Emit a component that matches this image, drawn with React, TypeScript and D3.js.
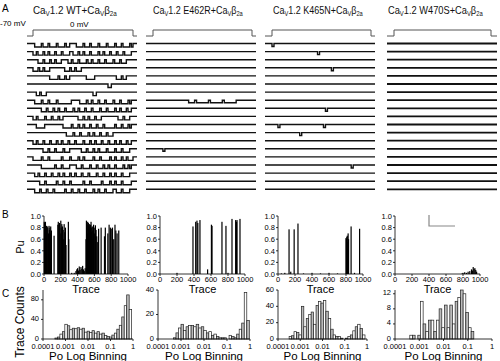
import React from 'react';
import * as d3 from 'd3';

const FONT = '"Liberation Sans", Arial, Helvetica, sans-serif';

// ---------- Panel A: titles / single-channel traces ----------
const mutants = ['WT', 'E462R', 'K465N', 'W470S'];
const titleWidths = [84, 90, 90, 95];

// '1' = open, '0' = closed, across the 0 mV step
const tracesWT = [
  '011110111011110111101100001111011101111011110111101110111101',
  '110111011011101110111100111011011101111011011101110111011110',
  '000111011101101110000110111011110110111011101111011101110000',
  '111011011100000000011101101110000000000000000000000000000000',
  '000000000011111011101100000000001111100000000000001110110000',
  '000000000000000000000000000000000000000000000110000000000000',
  '001101110000000000000000000000000000110000000000000000000000',
  '011110111011110111111110000011110110111011101111011101111010',
  '000001110111011011101111011011101110111101110111101101110110',
  '110111101110111011000000000111011011101110000000000111011100',
  '001111100000000000111110111011011101110111011111101110111010',
  '000000000000000000001111011101111011011101110111000000000000',
  '110111011101110110111011101111011101101110111011101101110110',
  '000000111011101111011100000001110111011011110111101110111100',
  '111110111011111110111101111011011111011101111101101110110111',
  '000001111111101110111100001110111101110111011011101111011010',
  '011011101110111011011101101110111011110111011101101110111100',
  '000011101111110111011101111111011101111110111101101110111110',
  '011101110111011111101110111011101111011011101111001110111100',
];
const tracesE462R = [
  '00000000000000000000000000000000000000000000000000',
  '00000000000000000000000000000000000000000000000000',
  '00000000000000000000000000000000000000000000000000',
  '00000000000000000000000000000000000000000000000000',
  '00000000000000000000000000000000000000000000000000',
  '00000000000000000000000000000000000000000000000000',
  '00000000000000000000000000000000000000000000000000',
  '00000000000000000011101111110111111011111100000000',
  '00000000000000000000000000000000000000000000000000',
  '00000000000000000000000000000000000000000000000000',
  '00000000000000000000000000000000000000000000000000',
  '00000000000000000000000000000000000000000000000000',
  '00000000000000000000000000000000000000000000000000',
  '00000100000000000000000000000000000000000000000000',
  '00000000000000000000000000000000000000000000000000',
  '00000000000000000000000000000000000000000000000000',
  '00000000000000000000000000000000000000000000000000',
  '00000000000000000000000000000000000000000000000000',
  '00000000000000000000000000000000000000000000000000',
];
const tracesK465N = [
  '10000000000000000000000000000000000000000000000000',
  '00000000000000000000000100000000000000000000000000',
  '00000000000000000000000000000000000000000000000000',
  '00000000000000000000000000000010000000000000000000',
  '00000000000000000000000000000000000000000000000000',
  '00000000000000000000000000000000000000000000000000',
  '00000000000000000000000000000000000000000000000000',
  '00000000000000000000000000000000000000000000000000',
  '00000000000000000000000000010000000000000000000000',
  '00000000000000000000000000000000000000000000000000',
  '00010000000000000000000000100000000000000000000000',
  '00000000000000100000000000000000000000000000000000',
  '00000000000000000000000000000000000000000000000000',
  '00000000000000000000000000000000000000000000000000',
  '00000000000000000000000000000000000000000000000000',
  '00000000000000000000000000000000000000001000000000',
  '00000000000000000000000000000000000000000000000000',
  '00000000000000000000000000000000000000000000000000',
  '00000000000000000000000000000000000000000000000000',
];
const tracesW470S = [
  '00000000000000000000000000000000000000000000000000',
  '00000000000000000000000000000000000000000000000000',
  '00000000000000000000000000000000000000000000000000',
  '00000000000000000000000000000000000000000000000000',
  '00000000000000000000000000000000000000000000000000',
  '00000000000000000000000000000000000000000000000000',
  '00000000000000000000000000000000000000000000000000',
  '00000000000000000000000000000000000000000000000000',
  '00000000000000000000000000000000000000000000000000',
  '00000000000000000000000000000000000000000000000000',
  '00000000000000000000000000000000000000000000000000',
  '00000000000000000000000000000000000000000000000000',
  '00000000000000000000000000000000000000000000000000',
  '00000000000000000000000000000000000000000000000000',
  '00000000000000000000000000000000000000000000000000',
  '00000000000000000000000000000000000000000000000000',
  '00000000000000000000000000000000000000000000000000',
  '00000000000000000000000000000000000000000000000000',
  '00000000000000000000000000000000000000000000000000',
];
const traceSets = [tracesWT, tracesE462R, tracesK465N, tracesW470S];

// ---------- Panel B: Po per trace [trace index, Po] ----------
const poWT: [number, number][] = [
  [3, 0.9], [8, 0.88], [12, 0.85], [17, 0.9], [22, 0.8], [30, 0.83], [34, 0.78], [38, 0.82], [45, 0.8], [52, 0.7],
  [60, 0.83], [65, 0.76], [70, 0.8], [75, 0.7], [80, 0.82], [88, 0.75], [120, 0.66], [165, 0.85], [170, 0.9],
  [178, 0.85], [185, 0.88], [192, 0.7], [200, 0.92], [205, 0.8], [212, 0.86], [216, 0.7], [220, 0.82], [228, 0.76],
  [235, 0.6], [240, 0.86], [248, 0.72], [255, 0.8], [262, 0.5], [290, 0.9], [295, 0.6], [330, 0.02], [360, 0.02],
  [380, 0.05], [390, 0.08], [400, 0.1], [410, 0.06], [420, 0.13], [430, 0.07], [440, 0.12], [450, 0.09], [460, 0.14],
  [470, 0.08], [480, 0.05], [490, 0.1], [500, 0.6], [505, 0.92], [512, 0.85], [516, 0.7], [520, 0.9], [528, 0.88],
  [532, 0.75], [535, 0.82], [540, 0.86], [545, 0.7], [548, 0.78], [555, 0.85], [560, 0.9], [565, 0.72], [568, 0.8],
  [575, 0.82], [582, 0.75], [586, 0.6], [590, 0.85], [598, 0.7], [605, 0.8], [612, 0.84], [620, 0.76], [628, 0.65],
  [640, 0.55], [650, 0.78], [680, 0.8], [720, 0.65], [730, 0.8], [760, 0.7], [775, 0.85], [790, 0.8], [800, 0.78],
  [815, 0.8], [830, 0.6], [845, 0.85], [855, 0.75], [870, 0.7], [890, 0.75],
];
const poE462R: [number, number][] = [
  [200, 0.02], [388, 0.82], [420, 0.9], [435, 0.92], [445, 0.88], [470, 0.93], [560, 0.08], [605, 0.85], [612, 0.83],
  [729, 0.9], [776, 0.83], [800, 0.02], [847, 0.95], [890, 0.93], [900, 0.9], [906, 0.93], [941, 0.95],
];
const poK465N: [number, number][] = [
  [40, 0.01], [80, 0.02], [130, 0.77], [150, 0.04], [190, 0.77], [235, 0.87], [300, 0.01], [400, 0.02], [500, 0.01],
  [600, 0.02], [700, 0.01], [800, 0.62], [805, 0.6], [810, 0.64], [815, 0.66], [820, 0.55], [825, 0.7], [830, 0.6],
  [860, 0.82], [900, 0.02], [960, 0.78],
];
const poW470S: [number, number][] = [
  [790, 0.01], [800, 0.02], [820, 0.03], [840, 0.02], [860, 0.04], [880, 0.05], [900, 0.08], [910, 0.06],
  [920, 0.12], [930, 0.09], [940, 0.1], [950, 0.07], [960, 0.04],
];
const poSets = [poWT, poE462R, poK465N, poW470S];
const poTicksY = [0, 0.2, 0.4, 0.6, 0.8, 1.0];
const traceTicks = [0, 200, 400, 600, 800, 1000];

// ---------- Panel C: Po log-binned histograms ----------
const binWidthLog = 0.11;
const histStartLog = [-3.47, -3.33, -3.5, -3.39];
const countsWT = [2, 4, 10, 15, 30, 27, 19, 22, 21, 23, 20, 22, 14, 16, 13, 17, 12, 15, 10, 12, 7, 5, 4, 8, 12, 20, 28, 45, 68, 90, 60];
const countsE462R = [1, 5, 9, 12, 7, 10, 11, 11, 10, 12, 9, 10, 7, 5, 6, 3, 4, 2, 1, 1, 1, 0, 3, 2, 1, 4, 8, 13, 38, 15];
const countsK465N = [3, 4, 9, 8, 5, 40, 15, 25, 30, 33, 18, 41, 46, 44, 47, 34, 25, 12, 5, 3, 3, 1, 0, 1, 3, 5, 10, 15, 18, 13, 5];
const countsW470S = [1, 1, 0, 1, 10, 4, 2, 5, 5, 2, 5, 8, 3, 9, 3, 9, 4, 10, 11, 13, 12, 7, 3, 2];
const countSets = [countsWT, countsE462R, countsK465N, countsW470S];
const countMax = [100, 40, 60, 13];
const countTicks = [[0, 40, 80], [0, 20, 40], [0, 20, 40, 60], [0, 4, 8, 12]];
const poLogTicks = [0.0001, 0.001, 0.01, 0.1, 1];
const poLogLabels = ['0.0001', '0.001', '0.01', '0.1', '1'];

// ---------- layout ----------
const colA = [
  { x0: 27, s0: 33, s1: 133, x1: 137, amp: 3.5 },
  { x0: 146, s0: 153, s1: 252, x1: 256, amp: 2.5 },
  { x0: 265, s0: 272, s1: 371, x1: 375, amp: 3 },
  { x0: 387, s0: 394, s1: 491, x1: 497, amp: 0 },
];
const titleX = [33, 153, 273, 388];
const colB = [
  { x0: 44, x1: 128 }, { x0: 160, x1: 245 }, { x0: 278, x1: 363 }, { x0: 395, x1: 480 },
];
const colC = [
  { x0: 43, x1: 133 }, { x0: 158, x1: 250 }, { x0: 278, x1: 367 }, { x0: 395, x1: 492 },
];
const traceY0 = 43.5, traceDY = 8.1;
const bY0 = 274, bY1 = 216;
const cY0 = 339, cY1 = 290;
const TICK_FS = 7.5;

function Title({ x, mut, width }: { x: number; mut: string; width: number }) {
  const ref = React.useRef<SVGTextElement>(null);
  const [sx, setSx] = React.useState(1);
  React.useLayoutEffect(() => {
    if (ref.current) {
      const w = ref.current.getBBox().width;
      if (w > 0) setSx(width / w);
    }
  }, [width]);
  return (
    <g transform={`translate(${x},14) scale(${sx},1)`}>
      <text ref={ref} x={0} y={0} fontFamily={FONT} fontSize={11} fill="#111">
        Ca<tspan fontSize={7} dy={2}>V</tspan>
        <tspan dy={-2}>1.2 {mut}+Ca</tspan>
        <tspan fontSize={7} dy={2}>V</tspan>
        <tspan dy={-2}>β</tspan>
        <tspan fontSize={7} dy={2}>2a</tspan>
      </text>
    </g>
  );
}

export default function App() {
  const line = d3.line<[number, number]>().curve(d3.curveStepAfter);
  return (
    <svg width={500} height={361} style={{ position: 'absolute', left: 0, top: 0, background: '#fff' }}>
      <rect width={500} height={361} fill="#fff" />
      {/* panel letters */}
      <text x={2} y={12} fontFamily={FONT} fontSize={10}>A</text>
      <text x={2} y={218} fontFamily={FONT} fontSize={10}>B</text>
      <text x={2} y={297} fontFamily={FONT} fontSize={10}>C</text>

      {/* Panel A */}
      {mutants.map((m, i) => <Title key={m} x={titleX[i]} mut={m} width={titleWidths[i]} />)}
      <text x={0} y={26} fontFamily={FONT} fontSize={8}>-70 mV</text>
      <text x={70} y={27} fontFamily={FONT} fontSize={8}>0 mV</text>
      {colA.map((c, ci) => {
        const pts: [number, number][] = [[c.x0, 36], [c.s0, 30], [c.s1, 36], [c.x1, 36]];
        return <path key={'p' + ci} d={line(pts) || ''} fill="none" stroke="#555" strokeWidth={1} />;
      })}
      {traceSets.map((set, ci) => {
        const c = colA[ci];
        return set.map((s, ti) => {
          const y = traceY0 + ti * traceDY;
          const xs = d3.scaleLinear().domain([0, s.length]).range([c.s0, c.s1]);
          const pts: [number, number][] = [[c.x0, y]];
          s.split('').forEach((ch, k) => pts.push([xs(k), ch === '1' ? y + c.amp : y]));
          pts.push([c.s1, y], [c.x1, y]);
          return (
            <path key={ci + '-' + ti} d={line(pts) || ''} fill="none" stroke="#111"
              strokeWidth={ci === 3 ? 1.8 : 1.4} />
          );
        });
      })}

      {/* Panel B */}
      {poSets.map((data, ci) => {
        const c = colB[ci];
        const x = d3.scaleLinear().domain([0, 1000]).range([c.x0, c.x1]);
        const y = d3.scaleLinear().domain([0, 1]).range([bY0, bY1]);
        return (
          <g key={'b' + ci} fontFamily={FONT} fontSize={TICK_FS}>
            {data.map(([t, p], k) => (
              <rect key={k} x={x(t) - 0.6} y={y(p)} width={1.2} height={bY0 - y(p)} fill="#000" />
            ))}
            <line x1={c.x0} x2={c.x0} y1={bY0} y2={bY1} stroke="#000" strokeWidth={0.8} />
            <line x1={c.x0} x2={c.x1} y1={bY0} y2={bY0} stroke="#000" strokeWidth={0.8} />
            {poTicksY.map(v => (
              <g key={v}>
                <line x1={c.x0 - 2} x2={c.x0} y1={y(v)} y2={y(v)} stroke="#000" strokeWidth={0.8} />
                <text x={c.x0 - 3} y={y(v) + 2.7} textAnchor="end">{d3.format('.1f')(v)}</text>
              </g>
            ))}
            {traceTicks.map(v => (
              <g key={v}>
                <line x1={x(v)} x2={x(v)} y1={bY0} y2={bY0 + 2} stroke="#000" strokeWidth={0.8} />
                <text x={x(v)} y={281.5} textAnchor="middle">{v}</text>
              </g>
            ))}
            <text x={(c.x0 + c.x1) / 2} y={292.5} textAnchor="middle" fontSize={11}>Trace</text>
          </g>
        );
      })}
      <text transform="translate(24,247) rotate(-90)" textAnchor="middle" fontFamily={FONT} fontSize={11}>Pu</text>
      <path d="M429,215 L429,226 L455,226" fill="none" stroke="#888" strokeWidth={1.2} />

      {/* Panel C */}
      {countSets.map((counts, ci) => {
        const c = colC[ci];
        const x = d3.scaleLog().domain([1e-4, 1]).range([c.x0, c.x1]);
        const y = d3.scaleLinear().domain([0, countMax[ci]]).range([cY0, cY1]);
        return (
          <g key={'c' + ci} fontFamily={FONT} fontSize={TICK_FS}>
            {counts.map((n, k) => {
              const lo = Math.pow(10, histStartLog[ci] + k * binWidthLog);
              const hi = Math.pow(10, histStartLog[ci] + (k + 1) * binWidthLog);
              return (
                <rect key={k} x={x(lo)} y={y(n)} width={x(hi) - x(lo)} height={cY0 - y(n)}
                  fill={k % 2 ? '#bbb' : '#fff'} stroke="#222" strokeWidth={0.7} />
              );
            })}
            <line x1={c.x0} x2={c.x0} y1={cY0} y2={cY1} stroke="#000" strokeWidth={0.8} />
            <line x1={c.x0} x2={c.x1} y1={cY0} y2={cY0} stroke="#000" strokeWidth={0.8} />
            {countTicks[ci].map(v => (
              <g key={v}>
                <line x1={c.x0 - 2} x2={c.x0} y1={y(v)} y2={y(v)} stroke="#000" strokeWidth={0.8} />
                <text x={c.x0 - 4} y={y(v) + 1.5} textAnchor="end">{v}</text>
              </g>
            ))}
            {poLogTicks.map((v, k) => (
              <g key={v}>
                <line x1={x(v)} x2={x(v)} y1={cY0} y2={cY0 + 2} stroke="#000" strokeWidth={0.8} />
                <text x={x(v)} y={348.5} textAnchor="middle">{poLogLabels[k]}</text>
              </g>
            ))}
            <text x={(c.x0 + c.x1) / 2} y={359.5} textAnchor="middle" fontSize={11.5}>Po Log Binning</text>
          </g>
        );
      })}
      <text transform="translate(24,322) rotate(-90)" textAnchor="middle" fontFamily={FONT} fontSize={12}>Trace Counts</text>
    </svg>
  );
}
